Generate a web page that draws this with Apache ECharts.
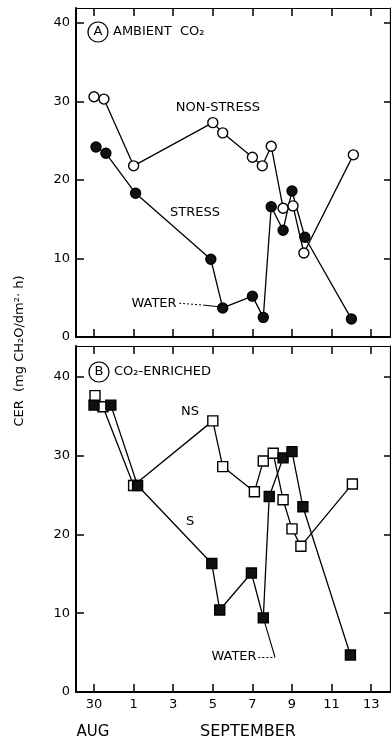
<!DOCTYPE html>
<html><head><meta charset="utf-8">
<script src="https://cdn.jsdelivr.net/npm/echarts@6/dist/echarts.min.js"></script>
<style>html,body{margin:0;padding:0;background:#fff}#c{width:391px;height:744px}</style>
</head><body><div id="c"></div>
<script>
// Days counted from Aug 30 (Aug 30 = 0, Sep 1 = 2, ...)
const xTickValues = [0, 2, 4, 6, 8, 10, 12, 14];
const xTickLabels = ['30', '1', '3', '5', '7', '9', '11', '13'];
const yTickValues = [0, 10, 20, 30, 40];

// Panel A: ambient CO2
const aNonStressDays = [0, 0.5, 2.0, 6.0, 6.5, 8.0, 8.5, 8.95, 9.55, 10.05, 10.6, 13.1];
const aNonStressCER  = [30.6, 30.3, 21.8, 27.3, 26.0, 22.9, 21.8, 24.3, 16.4, 16.7, 10.7, 23.2];
const aStressDays    = [0.1, 0.6, 2.1, 5.9, 6.5, 8.0, 8.55, 8.95, 9.55, 10.0, 10.65, 13.0];
const aStressCER     = [24.2, 23.4, 18.3, 9.9, 3.7, 5.2, 2.5, 16.6, 13.6, 18.6, 12.7, 2.3];

// Panel B: CO2-enriched
const bNonStressDays = [0.05, 0.45, 2.0, 6.0, 6.5, 8.1, 8.55, 9.05, 9.55, 10.0, 10.45, 13.05];
const bNonStressCER  = [37.6, 36.2, 26.2, 34.4, 28.6, 25.4, 29.3, 30.3, 24.4, 20.7, 18.5, 26.4];
const bStressDays    = [0.0, 0.85, 2.2, 5.95, 6.35, 7.95, 8.55, 8.85, 9.55, 10.0, 10.55, 12.95];
const bStressCER     = [36.4, 36.4, 26.2, 16.3, 10.4, 15.1, 9.4, 24.8, 29.7, 30.5, 23.5, 4.7];

const pairs = (xs, ys) => xs.map((x, i) => [x, ys[i]]);

const FONT = 'DejaVu Sans';
const XMIN = -0.91, XMAX = 14.95;

function xAx(gi, pos, showLabels) {
  return {
    type: 'value', gridIndex: gi, position: pos, min: XMIN, max: XMAX,
    axisLine: { show: true, onZero: false, lineStyle: { color: '#000', width: pos === 'bottom' ? 2 : 1.2 } },
    axisTick: { show: true, inside: true, length: 8, customValues: xTickValues, lineStyle: { color: '#000', width: 1.5 } },
    axisLabel: { show: showLabels, customValues: xTickValues, margin: 6, color: '#000', fontFamily: FONT, fontSize: 13,
      formatter: v => xTickLabels[xTickValues.indexOf(v)] },
    splitLine: { show: false }
  };
}
function yAx(gi, pos, max, showLabels) {
  return {
    type: 'value', gridIndex: gi, position: pos, min: 0, max: max,
    axisLine: { show: true, onZero: false, lineStyle: { color: '#000', width: pos === 'left' ? 2 : 1.2 } },
    axisTick: { show: true, inside: true, length: pos === 'left' ? 8 : 6, customValues: yTickValues, lineStyle: { color: '#000', width: 1.5 } },
    axisLabel: { show: showLabels, customValues: yTickValues, margin: 6, color: '#000', fontFamily: FONT, fontSize: 13 },
    splitLine: { show: false }
  };
}

const lineBase = { type: 'line', symbolSize: 10, lineStyle: { color: '#000', width: 1.3 }, z: 3 };
const openStyle = { color: '#fff', borderColor: '#000', borderWidth: 1.4 };
const fillStyle = { color: '#111', borderColor: '#000', borderWidth: 1.4 };
const textLbl = { show: true, position: 'inside', color: '#000', fontFamily: FONT, fontSize: 13, formatter: p => p.name };
const mp = (items) => ({ symbol: 'circle', symbolSize: 1, itemStyle: { color: 'rgba(0,0,0,0)' }, label: textLbl, data: items });

const chart = echarts.init(document.getElementById('c'), null, { renderer: 'canvas' });
chart.setOption({
  animation: false,
  backgroundColor: '#fff',
  grid: [
    { left: 76, top: 8, width: 314, height: 329 },
    { left: 76, top: 346, width: 314, height: 346 }
  ],
  xAxis: [xAx(0, 'bottom', false), xAx(0, 'top', false), xAx(1, 'bottom', true), xAx(1, 'top', false)],
  yAxis: [yAx(0, 'left', 41.9, true), yAx(0, 'right', 41.9, false), yAx(1, 'left', 43.9, true), yAx(1, 'right', 43.9, false)],
  series: [
    Object.assign({}, lineBase, { name: 'A non-stress', xAxisIndex: 0, yAxisIndex: 0, symbol: 'circle', itemStyle: openStyle,
      data: pairs(aNonStressDays, aNonStressCER),
      markPoint: mp([{ name: 'NON-STRESS', coord: [6.26, 29.2] }, { name: 'STRESS', coord: [5.1, 15.8] }, { name: 'WATER', coord: [3.03, 4.3] }]),
      markLine: { silent: true, symbol: ['none', 'none'], label: { show: false },
        data: [
          [{ coord: [4.3, 4.3], lineStyle: { color: '#000', width: 1, type: [2, 2] } }, { coord: [5.6, 4.05] }],
          [{ coord: [5.6, 4.05], lineStyle: { color: '#000', width: 1.1, type: 'solid' } }, { coord: [6.3, 3.85] }]
        ] } }),
    Object.assign({}, lineBase, { name: 'A stress', xAxisIndex: 0, yAxisIndex: 0, symbol: 'circle', itemStyle: fillStyle,
      data: pairs(aStressDays, aStressCER) }),
    Object.assign({}, lineBase, { name: 'B non-stress', xAxisIndex: 2, yAxisIndex: 2, symbol: 'rect', itemStyle: openStyle,
      data: pairs(bNonStressDays, bNonStressCER),
      markPoint: mp([{ name: 'NS', coord: [4.85, 35.6] }, { name: 'S', coord: [4.85, 21.6] }, { name: 'WATER', coord: [7.07, 4.44] }]),
      markLine: { silent: true, symbol: ['none', 'none'], label: { show: false },
        data: [
          [{ coord: [8.3, 4.44], lineStyle: { color: '#000', width: 1, type: [2, 2] } }, { coord: [9.14, 4.44] }],
          [{ coord: [9.14, 4.44], lineStyle: { color: '#000', width: 1.1, type: 'solid' } }, { coord: [8.6, 9.0] }]
        ] } }),
    Object.assign({}, lineBase, { name: 'B stress', xAxisIndex: 2, yAxisIndex: 2, symbol: 'rect', itemStyle: fillStyle,
      data: pairs(bStressDays, bStressCER) })
  ],
  graphic: [
    { type: 'circle', shape: { cx: 98, cy: 32, r: 10 }, style: { fill: 'none', stroke: '#000', lineWidth: 1.2 } },
    { type: 'text', x: 98, y: 32, style: { text: 'A', font: '13px "DejaVu Sans"', fill: '#000', align: 'center', verticalAlign: 'middle' } },
    { type: 'text', x: 113, y: 32, style: { text: 'AMBIENT  CO₂', font: '13px "DejaVu Sans"', fill: '#000', align: 'left', verticalAlign: 'middle' } },
    { type: 'circle', shape: { cx: 99, cy: 372, r: 10 }, style: { fill: 'none', stroke: '#000', lineWidth: 1.2 } },
    { type: 'text', x: 99, y: 372, style: { text: 'B', font: '13px "DejaVu Sans"', fill: '#000', align: 'center', verticalAlign: 'middle' } },
    { type: 'text', x: 114, y: 372, style: { text: 'CO₂-ENRICHED', font: '13px "DejaVu Sans"', fill: '#000', align: 'left', verticalAlign: 'middle' } },
    { type: 'text', x: 93, y: 732, style: { text: 'AUG', font: '15px "DejaVu Sans"', fill: '#000', align: 'center', verticalAlign: 'middle' } },
    { type: 'text', x: 248, y: 732, style: { text: 'SEPTEMBER', font: '16px "DejaVu Sans"', fill: '#000', align: 'center', verticalAlign: 'middle' } },
    { type: 'text', x: 20, y: 351, rotation: Math.PI / 2, style: { text: 'CER  (mg CH₂O/dm²· h)', font: '13px "DejaVu Sans"', fill: '#000', align: 'center', verticalAlign: 'middle' } }
  ]
});
</script>
</body></html>
